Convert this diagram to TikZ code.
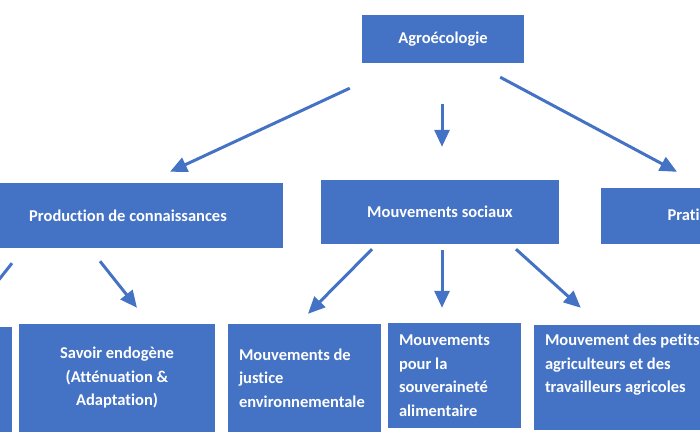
\documentclass[tikz,border=0pt]{standalone}
\usepackage{fontspec}
\setmainfont{Carlito}[Ligatures=NoCommon]
\usepackage{xcolor}
\usepackage{tikz}
\usetikzlibrary{arrows.meta, calc}
\definecolor{boxblue}{HTML}{4472C4}

\begin{document}
\begin{tikzpicture}[x=1pt,y=-1pt,
  box/.style={fill=boxblue, text=white, inner sep=0pt, align=center,
    font=\bfseries\fontsize{16.5}{23.5}\selectfont},
  leftbox/.style={box, align=flush left, inner xsep=11pt},
  arr/.style={boxblue, line width=3pt, -{Triangle[length=17pt,width=15pt]}}]
\useasboundingbox (0,0) rectangle (700,441);
\clip (0,0) rectangle (700,441);
\node[box, minimum width=162, minimum height=48] (agro) at (443,39) {Agroécologie};
\node[box, minimum width=310, minimum height=65] (prod) at (128,215.5) {Production de connaissances};
\node[box, minimum width=238, minimum height=64] (soc) at (440,212) {Mouvements sociaux};
\node[box, minimum width=198, minimum height=56] (prat) at (700,216) {Pratiques};
\node[box, minimum width=196, minimum height=105] (lb) at (-86,379.5) {};
\node[box, minimum width=196, minimum height=108] (sav) at (117,378) {Savoir endogène\\(Atténuation \&\\Adaptation)};
\node[leftbox, text width=131, minimum height=108] (jus) at (304.5,378) {Mouvements de\\justice\\environnementale};
\node[leftbox, text width=111, minimum height=105] (souv) at (454.5,375.5) {Mouvements\\pour la\\souveraineté\\alimentaire};
\node[box, minimum width=206, minimum height=105] (pt) at (637,377.5) {};
\node[leftbox, anchor=north west, inner ysep=9pt] (pt-txt) at (pt.north west) {Mouvement des petits\\agriculteurs et des\\travailleurs agricoles};
\draw[arr] ($(agro.south west)+(-12,25)$) -- ($(prod.north)+(42,-11)$);
\draw[arr] ($(agro.south)+(-1,41)$) -- ($(soc.north)+(2,-33)$);
\draw[arr] ($(agro.south east)+(-24,14)$) -- ($(prat.north)+(-23,-16)$);
\draw[arr] ($(prod.south)+(-116,15)$) -- ($(lb.north)+(61,-17)$);
\draw[arr] ($(prod.south)+(-28,13)$) -- ($(sav.north)+(20,-16)$);
\draw[arr] ($(soc.south)+(-68,5)$) -- ($(jus.north)+(3.5,-10)$);
\draw[arr] ($(soc.south)+(2,6)$) -- ($(souv.north)+(-12.5,-15)$);
\draw[arr] ($(soc.south)+(76,5)$) -- ($(pt.north west)+(47,-17)$);
\end{tikzpicture}
\end{document}
